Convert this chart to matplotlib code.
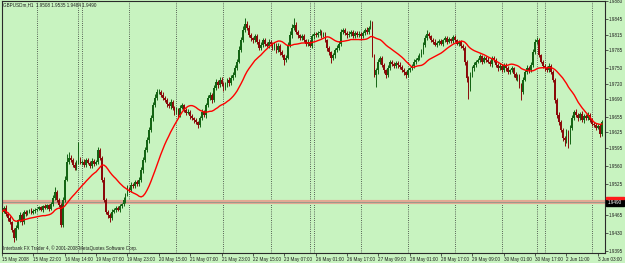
# -*- coding: utf-8 -*-
import matplotlib
matplotlib.use('Agg')
import matplotlib.pyplot as plt
import matplotlib.patches as mpatches
import pandas as pd

# GBPUSDm H1, one close per bar
first_open = 1.9462
closes = [
    1.9471, 1.9479, 1.9467, 1.9459, 1.9451, 1.9436, 1.9420, 1.9440, 1.9455, 1.9465,
    1.9451, 1.9471, 1.9467, 1.9471, 1.9475, 1.9469, 1.9473, 1.9475, 1.9477, 1.9480,
    1.9475, 1.9482, 1.9479, 1.9484, 1.9477, 1.9486, 1.9498, 1.9510, 1.9494, 1.9484,
    1.9446, 1.9494, 1.9533, 1.9568, 1.9576, 1.9572, 1.9562, 1.9556, 1.9568, 1.9572,
    1.9566, 1.9568, 1.9562, 1.9572, 1.9566, 1.9560, 1.9570, 1.9564, 1.9568, 1.9591,
    1.9576, 1.9533, 1.9494, 1.9471, 1.9465, 1.9459, 1.9471, 1.9475, 1.9479, 1.9475,
    1.9482, 1.9486, 1.9494, 1.9504, 1.9517, 1.9513, 1.9523, 1.9521, 1.9529, 1.9525,
    1.9533, 1.9552, 1.9572, 1.9591, 1.9610, 1.9630, 1.9653, 1.9678, 1.9692, 1.9704,
    1.9704, 1.9698, 1.9692, 1.9688, 1.9680, 1.9676, 1.9684, 1.9673, 1.9665, 1.9669,
    1.9659, 1.9673, 1.9678, 1.9669, 1.9663, 1.9665, 1.9657, 1.9653, 1.9649, 1.9645,
    1.9640, 1.9653, 1.9665, 1.9659, 1.9678, 1.9692, 1.9698, 1.9688, 1.9711, 1.9723,
    1.9717, 1.9727, 1.9719, 1.9711, 1.9717, 1.9727, 1.9721, 1.9731, 1.9737, 1.9750,
    1.9762, 1.9785, 1.9804, 1.9824, 1.9835, 1.9828, 1.9814, 1.9808, 1.9804, 1.9812,
    1.9801, 1.9789, 1.9795, 1.9804, 1.9797, 1.9793, 1.9801, 1.9797, 1.9789, 1.9795,
    1.9785, 1.9793, 1.9781, 1.9775, 1.9766, 1.9770, 1.9795, 1.9814, 1.9828, 1.9834,
    1.9820, 1.9814, 1.9808, 1.9812, 1.9804, 1.9797, 1.9801, 1.9793, 1.9812, 1.9816,
    1.9814, 1.9818, 1.9820, 1.9814, 1.9816, 1.9804, 1.9789, 1.9781, 1.9770, 1.9775,
    1.9785, 1.9789, 1.9797, 1.9820, 1.9824, 1.9818, 1.9814, 1.9816, 1.9820, 1.9812,
    1.9818, 1.9814, 1.9816, 1.9812, 1.9818, 1.9824, 1.9820, 1.9828, 1.9839, 1.9775,
    1.9737, 1.9746, 1.9762, 1.9770, 1.9756, 1.9746, 1.9737, 1.9750, 1.9762, 1.9758,
    1.9754, 1.9760, 1.9756, 1.9752, 1.9746, 1.9742, 1.9737, 1.9746, 1.9750, 1.9754,
    1.9762, 1.9766, 1.9770, 1.9775, 1.9781, 1.9795, 1.9808, 1.9816, 1.9812, 1.9804,
    1.9801, 1.9795, 1.9799, 1.9802, 1.9797, 1.9804, 1.9808, 1.9801, 1.9806, 1.9802,
    1.9810, 1.9804, 1.9797, 1.9801, 1.9793, 1.9789, 1.9762, 1.9731, 1.9711, 1.9737,
    1.9750, 1.9756, 1.9762, 1.9766, 1.9773, 1.9762, 1.9770, 1.9766, 1.9762, 1.9758,
    1.9770, 1.9766, 1.9756, 1.9750, 1.9754, 1.9746, 1.9756, 1.9750, 1.9742, 1.9746,
    1.9750, 1.9738, 1.9731, 1.9735, 1.9717, 1.9704, 1.9727, 1.9742, 1.9750, 1.9746,
    1.9756, 1.9781, 1.9801, 1.9804, 1.9775, 1.9762, 1.9754, 1.9750, 1.9746, 1.9754,
    1.9742, 1.9727, 1.9688, 1.9659, 1.9645, 1.9630, 1.9614, 1.9610, 1.9626, 1.9607,
    1.9634, 1.9653, 1.9665, 1.9659, 1.9653, 1.9661, 1.9649, 1.9657, 1.9653, 1.9659,
    1.9649, 1.9641, 1.9640, 1.9634, 1.9638, 1.9622, 1.9645,
]
# wick lengths in pips above / below the body
wick_up = [
    4, 3, 5, 3, 4, 3, 4, 6, 3, 5,   3, 4, 3, 3, 2, 4, 3, 3, 2, 3,
    3, 2, 4, 3, 3, 4, 5, 9, 4, 3,   4, 6, 8, 15, 12, 6, 4, 5, 4, 35,
    5, 4, 6, 3, 4, 3, 5, 4, 3, 6,   4, 3, 5, 3, 3, 4, 5, 3, 4, 3,
    4, 3, 5, 4, 6, 3, 5, 4, 3, 4,   5, 6, 5, 6, 7, 6, 5, 6, 8, 5,
    6, 4, 5, 4, 3, 5, 6, 4, 3, 5,   4, 6, 5, 3, 4, 5, 3, 4, 3, 4,
    3, 4, 6, 4, 5, 6, 5, 4, 6, 5,   4, 6, 5, 4, 5, 4, 6, 5, 6, 5,
    6, 7, 6, 8, 12, 6, 5, 4, 3, 5,  4, 5, 6, 4, 5, 4, 5, 3, 4, 5,
    4, 5, 3, 4, 3, 5, 6, 7, 8, 13,  5, 4, 3, 5, 4, 3, 5, 4, 5, 4,
    3, 4, 5, 4, 3, 4, 3, 4, 3, 4,   4, 5, 6, 5, 4, 3, 4, 5, 3, 4,
    4, 3, 5, 3, 4, 4, 5, 4, 4, 3,   3, 5, 6, 4, 3, 4, 3, 5, 4, 3,
    4, 3, 4, 5, 3, 4, 3, 4, 3, 4,   5, 4, 5, 4, 6, 5, 6, 7, 4, 3,
    4, 5, 3, 4, 5, 3, 4, 5, 4, 3,   5, 4, 3, 4, 3, 4, 3, 3, 4, 5,
    4, 5, 3, 4, 5, 3, 4, 3, 5, 4,   3, 4, 3, 4, 5, 3, 4, 3, 4, 3,
    4, 3, 5, 4, 3, 4, 5, 4, 5, 4,   5, 6, 5, 6, 4, 3, 4, 3, 4, 5,
    3, 4, 3, 4, 5, 4, 3, 4, 5, 3,   5, 6, 4, 5, 3, 4, 5, 3, 4, 5,
    3, 4, 5, 3, 4, 3, 5,
]
wick_dn = [
    4, 3, 4, 5, 3, 5, 8, 4, 3, 4,   5, 3, 4, 3, 3, 2, 3, 4, 3, 3,
    3, 4, 2, 3, 4, 3, 3, 4, 3, 4,   4, 5, 4, 3, 4, 5, 3, 4, 3, 4,
    3, 4, 3, 4, 3, 4, 3, 4, 3, 5,   4, 5, 4, 5, 6, 8, 4, 3, 4, 3,
    4, 3, 4, 5, 3, 4, 3, 4, 3, 4,   3, 4, 5, 4, 3, 5, 4, 5, 4, 3,
    4, 5, 3, 4, 5, 4, 6, 5, 7, 4,   6, 4, 3, 5, 4, 3, 5, 4, 5, 4,
    6, 5, 3, 4, 5, 4, 3, 5, 4, 3,   5, 4, 4, 5, 3, 4, 5, 3, 4, 5,
    4, 3, 4, 3, 4, 5, 4, 6, 5, 4,   5, 4, 3, 5, 4, 3, 4, 5, 3, 4,
    5, 4, 5, 3, 10, 4, 3, 4, 5, 4,  4, 5, 4, 3, 4, 5, 4, 3, 4, 5,
    4, 3, 4, 5, 3, 4, 5, 6, 10, 4,  5, 4, 3, 4, 3, 4, 5, 3, 4, 3,
    4, 3, 4, 5, 3, 4, 3, 4, 3, 4,   4, 24, 8, 5, 4, 5, 6, 4, 3, 4,
    3, 4, 5, 3, 4, 5, 6, 4, 3, 4,   3, 4, 3, 4, 3, 4, 5, 3, 4, 3,
    4, 3, 4, 5, 3, 4, 3, 4, 3, 4,   3, 4, 3, 4, 5, 4, 6, 8, 21, 5,
    4, 5, 4, 3, 4, 5, 3, 4, 3, 4,   5, 4, 3, 5, 4, 3, 4, 5, 4, 3,
    4, 5, 4, 6, 5, 16, 4, 3, 4, 5,  4, 3, 4, 5, 4, 3, 4, 5, 4, 3,
    4, 5, 6, 5, 6, 5, 6, 12, 5, 12, 5, 4, 3, 4, 5, 3, 4, 5, 4, 3,
    4, 3, 5, 4, 3, 6, 4,
]

# bar index of every day start (dotted separators)
day_starts = [18, 39, 41, 65, 89, 113, 137, 157, 159, 183, 207, 231, 255, 273, 277, 301]
time_labels = ['15 May 2008', '15 May 22:00', '16 May 14:00', '19 May 07:00', '19 May 23:00',
               '20 May 15:00', '21 May 07:00', '21 May 23:00', '22 May 15:00', '23 May 07:00',
               '26 May 01:00', '26 May 17:00', '27 May 09:00', '28 May 01:00', '28 May 17:00',
               '29 May 09:00', '30 May 01:00', '30 May 17:00', '2 Jun 11:00', '3 Jun 03:00']
label_step = 16
price_ticks = [1.9880, 1.9845, 1.9815, 1.9785, 1.9750, 1.9720, 1.9690, 1.9655, 1.9625,
               1.9595, 1.9560, 1.9525, 1.9465, 1.9430, 1.9395]
hline_price = 1.9490
header = 'GBPUSDm,H1  1.9508 1.9535 1.9484 1.9490'
copyright_text = 'Interbank FX Trader 4, \u00a9 2001-2008 MetaQuotes Software Corp.'

bg = '#c8f3c0'
ink = '#1e1e1e'
bull = '#146414'
bear = '#8a0a0a'
fs = 3.3
plt.rcParams['font.family'] = ['Liberation Sans', 'DejaVu Sans']

opens = [first_open] + closes[:-1]
highs = [max(o, c) + u / 10000 for o, c, u in zip(opens, closes, wick_up)]
lows = [min(o, c) - d / 10000 for o, c, d in zip(opens, closes, wick_dn)]
ma = pd.Series(closes).rolling(21, min_periods=1).mean()
idx = list(range(len(closes)))
colors = [bull if c >= o else bear for o, c in zip(opens, closes)]

fig = plt.figure(figsize=(6.25, 2.63), dpi=100, facecolor=bg)
ax = fig.add_axes([2 / 625, 10 / 263, 603 / 625, 252 / 263])
ax.set_facecolor(bg)

# day separators
for d in day_starts:
    ax.axvline(d, color='#333333', lw=0.6, ls=(0, (1, 1.6)), zorder=1)

# horizontal level line
ax.axhline(hline_price, color='#e2a893', lw=3.0, zorder=2)
ax.axhline(hline_price, color='#9a9a8a', lw=0.7, zorder=2)

# candles
ax.vlines(idx, lows, highs, colors=colors, lw=0.7, zorder=3)
bottoms = [min(o, c) for o, c in zip(opens, closes)]
heights = [max(abs(c - o), 0.00004) for o, c in zip(opens, closes)]
ax.bar(idx, heights, bottom=bottoms, width=0.9, color=colors, linewidth=0, zorder=3)

# moving average
ax.plot(idx, ma, color='#ff0000', lw=1.0, zorder=4)

ax.set_xlim((2 - 1.7) / 1.961, (605 - 1.7) / 1.961)
ax.set_ylim(1.98801 - 252 * 0.000194, 1.98801)

for s in ax.spines.values():
    s.set_color('#2a2a2a')
    s.set_linewidth(0.8)

ax.set_xticks([k * label_step for k in range(len(time_labels))])
ax.set_xticklabels(time_labels)
for lbl in ax.get_xticklabels():
    lbl.set_horizontalalignment('left')
ax.tick_params(axis='x', direction='out', length=2, width=0.5, pad=0.6,
               labelsize=fs, colors=ink)

ax.yaxis.tick_right()
ax.set_yticks(price_ticks)
ax.set_yticklabels(['%.4f' % p for p in price_ticks])
ax.tick_params(axis='y', direction='out', length=2, width=0.5, pad=0.6,
               labelsize=fs, colors=ink)

fig.text(3 / 625, 1 - 5 / 263, header, fontsize=fs, color=ink, va='center', ha='left')
fig.text(3 / 625, 1 - 248 / 263, copyright_text, fontsize=fs, color=ink,
         va='center', ha='left')

# price box at the right for the level line
fig.add_artist(mpatches.Rectangle((606 / 625, (263 - 206) / 263), 18 / 625, 7 / 263,
                                  transform=fig.transFigure, color='black', zorder=5))
fig.add_artist(mpatches.Rectangle((606 / 625, (263 - 199) / 263), 18 / 625, 2.5 / 263,
                                  transform=fig.transFigure, color='#ff1a1a', zorder=5))
fig.text(607.5 / 625, (263 - 202.5) / 263, '%.4f' % hline_price, fontsize=fs,
         color='white', va='center', ha='left', zorder=6)

fig.savefig('out.png', dpi=100, facecolor=bg)
